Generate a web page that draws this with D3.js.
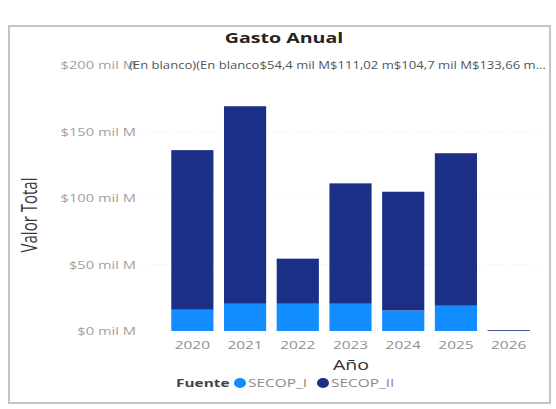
<!DOCTYPE html>
<html><head><meta charset="utf-8">
<script src="https://cdn.jsdelivr.net/npm/d3@7"></script>
<style>body{margin:0;background:#fff;}svg{display:block;font-family:"Open Sans",sans-serif;}</style>
</head><body>
<svg id="c" width="556" height="409"></svg>
<script>
const years = ["2020","2021","2022","2023","2024","2025","2026"];
const secopI  = [16, 20.5, 20.5, 20.5, 15.5, 19, 0];
const secopII = [120, 148.5, 33.9, 90.5, 89.2, 114.66, 0.6];
const series = ["SECOP_I","SECOP_II"];
const colors = ["#118DFF","#1B2F86"];
const yTicks = [0, 50, 100, 150, 200];
const yTickLabels = ["$0 mil M","$50 mil M","$100 mil M","$150 mil M","$200 mil M"];
const topLabels = ["(En blanco)","(En blanco","$54,4 mil M","$111,02 m","$104,7 mil M","$133,66 m..."];

const SX = 1.4;
const svg = d3.select("#c");
const x = d3.scaleBand().domain(years).range([166, 535]).paddingInner(0.2).paddingOuter(0.1);
const y = d3.scaleLinear().domain([0, 200]).range([331, 65]);

svg.append("rect").attr("x",9).attr("y",26).attr("width",541).attr("height",377)
  .attr("fill","none").attr("stroke","#c4c4c4").attr("stroke-width",2);

function htext(px, py, str){
  return svg.append("text").attr("transform",`translate(${px},${py}) scale(${SX},1)`).text(str);
}

// gridlines
svg.append("g").selectAll("line").data(yTicks.slice(1)).join("line")
  .attr("x1",140).attr("x2",540).attr("y1",d=>y(d)).attr("y2",d=>y(d))
  .attr("stroke","#eeeeee").attr("stroke-dasharray","1,2");

// y tick labels
yTicks.forEach((t,i)=>{
  htext(136, y(t)+4, yTickLabels[i]).attr("text-anchor","end").attr("font-size",10.5).attr("fill","#a0a0a0");
});

// bars
const rows = years.map((yr,i)=>({year:yr, SECOP_I:secopI[i], SECOP_II:secopII[i]}));
const stacked = d3.stack().keys(series)(rows);
svg.append("g").selectAll("g").data(stacked).join("g")
  .attr("fill",(d,i)=>colors[i])
  .selectAll("rect").data(d=>d).join("rect")
  .attr("x",d=>x(d.data.year)).attr("width",x.bandwidth())
  .attr("y",d=>y(d[1])).attr("height",d=>Math.max(0,y(d[0])-y(d[1])));

// x labels
years.forEach(yr=>{
  htext(x(yr)+x.bandwidth()/2, 349, yr).attr("text-anchor","middle").attr("font-size",11).attr("fill","#909090");
});

// top labels row
const tl = svg.append("text").attr("transform",`translate(129,69) scale(${SX},1)`)
  .attr("font-size",10).attr("fill","#555");
topLabels.forEach(s=>tl.append("tspan").text(s));
tl.attr("textLength", (546-129)/SX).attr("lengthAdjust","spacingAndGlyphs");

// title
htext(284, 43, "Gasto Anual").attr("text-anchor","middle").attr("font-size",14).attr("font-weight","bold").attr("fill","#252423");

// axis titles
htext(351, 370, "Año").attr("text-anchor","middle").attr("font-size",14).attr("fill","#333");
svg.append("text").attr("transform",`translate(37,215) scale(${SX},1) rotate(-90)`)
  .attr("text-anchor","middle").attr("font-size",15).attr("fill","#3a3a3a").text("Valor Total");

// legend
htext(176, 387, "Fuente").attr("font-size",11).attr("font-weight","bold").attr("fill","#444");
const legX = [240, 323];
series.forEach((s,i)=>{
  svg.append("ellipse").attr("cx",legX[i]).attr("cy",383).attr("rx",6).attr("ry",5).attr("fill",colors[i]);
  htext(legX[i]+8, 387, s).attr("font-size",11).attr("fill","#8a8a8a");
});
</script>
</body></html>
